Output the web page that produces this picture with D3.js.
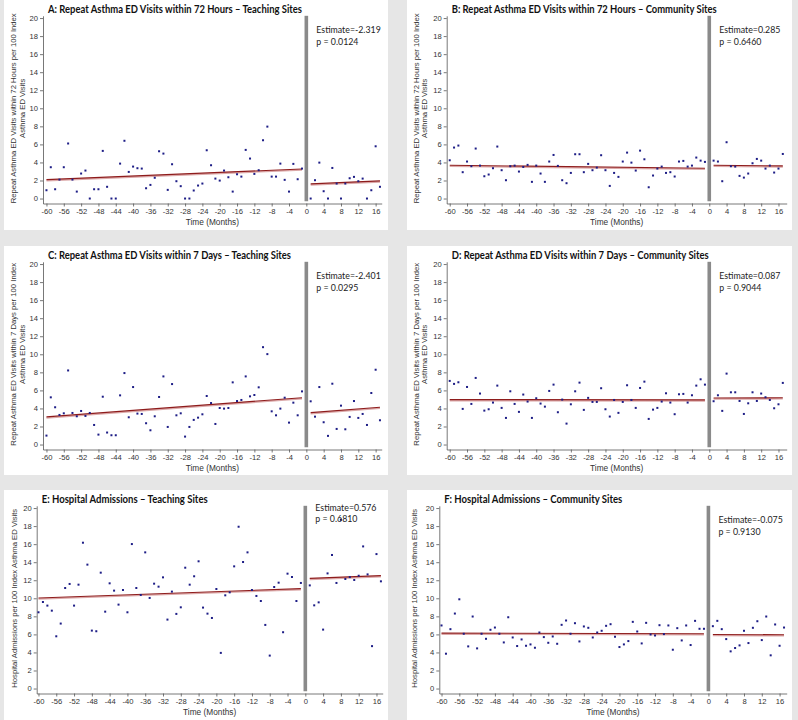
<!DOCTYPE html>
<html>
<head>
<meta charset="utf-8">
<script src="https://cdn.jsdelivr.net/npm/d3@7"></script>
<style>
  body { margin: 0; background: #e6e6e6; }
</style>
</head>
<body>
<div id="chart"></div>
<script>

// Months before and after the intervention (month 0 is the break).
var monthsPre  = [-60, -59, -58, -57, -56, -55, -54, -53, -52, -51, -50, -49, -48, -47, -46,
                  -45, -44, -43, -42, -41, -40, -39, -38, -37, -36, -35, -34, -33, -32, -31,
                  -30, -29, -28, -27, -26, -25, -24, -23, -22, -21, -20, -19, -18, -17, -16,
                  -15, -14, -13, -12, -11, -10, -9, -8, -7, -6, -5, -4, -3, -2, -1];
var monthsPost = [1, 2, 3, 4, 5, 6, 7, 8, 9, 10, 11, 12, 13, 14, 15, 16, 17];

var xTicks = [-60, -56, -52, -48, -44, -40, -36, -32, -28, -24, -20, -16, -12, -8, -4, 0, 4, 8, 12, 16];
var yTicks = [0, 2, 4, 6, 8, 10, 12, 14, 16, 18, 20];

// A: repeat visits within 72 hours, teaching sites
var aPre = [0.92, 3.47, 1.03, 2.1, 3.47, 6.1, 2.1, 0.77, 2.77, 3.1,
            0, 1.03, 1.03, 5.28, 1.3, 0, 0, 3.87, 6.4, 2.95,
            3.54, 3.36, 3.32, 1.14, 1.51, 2.3, 5.24, 4.98, 0.96, 3.8,
            1.92, 1.37, 0, 0, 0.89, 1.44, 1.66, 5.35, 3.69, 2.21,
            1.99, 3.1, 2.36, 0.77, 2.69, 2.43, 5.39, 4.43, 2.73, 3.14,
            6.46, 7.97, 2.43, 2.43, 3.87, 2.07, 0.77, 3.84, 2.14, 3.32];
var aPost = [0, 2.03, 3.98, 0.81, 0, 3.39, 1.66, 0, 1.66, 2.25, 2.4, 1.92, 2.21, 0, 0.92, 5.79, 1.3];
var aTrend = [[2.1, 3.28], [1.62, 1.96]];

// B: repeat visits within 72 hours, community sites
var bPre = [4.24, 5.65, 5.87, 2.92, 4.1, 3.58, 5.54, 3.65, 2.47, 2.66,
            3.36, 5.76, 3.14, 2.03, 3.58, 3.65, 2.99, 3.5, 3.73, 1.85,
            3.65, 2.77, 1.85, 4.1, 4.83, 3.62, 2.03, 1.7, 2.84, 4.91,
            4.91, 2.92, 3.84, 3.14, 3.43, 4.8, 3.14, 1.4, 2.84, 2.4,
            4.1, 5.09, 3.98, 3.1, 5.31, 4.35, 1.25, 2.55, 3.32, 3.54,
            2.84, 2.92, 2.44, 4.1, 4.17, 3.54, 3.65, 4.54, 4.2, 4.06];
var bPost = [4.2, 4.1, 1.92, 6.24, 3.58, 3.54, 2.51, 2.32, 2.77, 3.91, 4.39, 4.2, 3.32, 3.65, 2.88, 3.32, 4.94];
var bTrend = [[3.69, 3.36], [3.69, 3.62]];

// C: repeat visits within 7 days, teaching sites
var cPre = [0.99, 5.23, 4.13, 3.28, 3.46, 8.21, 3.5, 3.13, 3.72, 3.17,
            3.5, 2.17, 1.1, 5.3, 1.33, 1.03, 1.03, 5.45, 7.92, 3.02,
            6.37, 3.43, 3.39, 2.36, 1.58, 3.13, 5.27, 7.55, 1.95, 6.7,
            3.24, 3.46, 0.88, 1.95, 2.73, 2.98, 3.35, 5.38, 4.6, 2.28,
            4.05, 3.98, 4.05, 6.89, 4.82, 4.94, 7.55, 5.34, 5.49, 6.34,
            10.79, 10.02, 3.68, 3.24, 3.98, 5.19, 2.43, 4.64, 3.24, 5.89];
var cPost = [4.79, 3.09, 6.37, 2.47, 0.96, 6.74, 1.73, 4.31, 1.69, 3.06, 4.82, 2.95, 3.39, 2.17, 5.71, 8.29, 2.69];
var cTrend = [[3.06, 5.19], [3.54, 4.13]];

// D: repeat visits within 7 days, community sites
var dPre = [7.05, 6.72, 6.9, 3.95, 6.38, 4.5, 7.38, 5.65, 3.76, 3.91,
            4.65, 6.53, 4.06, 2.95, 5.9, 4.5, 3.62, 5.54, 4.76, 2.95,
            5.13, 4.54, 4.2, 5.94, 6.64, 3.58, 4.98, 2.32, 4.46, 5.9,
            6.86, 3.84, 5.17, 4.72, 4.72, 6.24, 3.91, 3.1, 4.94, 3.51,
            4.72, 6.57, 4.94, 4.06, 6.27, 6.97, 2.84, 3.87, 4.06, 4.76,
            5.68, 4.65, 3.36, 5.57, 5.61, 4.65, 5.46, 6.53, 7.23, 6.64];
var dPost = [4.8, 5.46, 3.73, 7.86, 5.79, 5.79, 4.83, 3.39, 4.57, 5.79, 4.83, 5.65, 5.24, 4.94, 4.02, 4.46, 6.83];
var dTrend = [[4.98, 4.95], [5.15, 5.18]];

// E: hospital admissions, teaching sites
var ePre = [8.45, 9.59, 9.19, 8.63, 5.79, 7.2, 11.14, 11.59, 9.19, 11.51,
            16.16, 13.73, 6.42, 6.35, 12.84, 8.52, 11.66, 10.85, 9.3, 10.92,
            8.45, 16.01, 11.14, 10.37, 15.09, 10.04, 11.62, 11.29, 12.32, 7.64,
            10.74, 8.27, 9.0, 13.39, 11.51, 12.44, 14.1, 8.97, 8.3, 7.82,
            11.03, 3.95, 10.33, 10.66, 13.54, 17.93, 14.02, 15.09, 10.92, 10.26,
            9.7, 7.05, 3.65, 11.25, 11.73, 6.24, 12.73, 12.36, 9.7, 11.7];
var ePost = [11.43, 9.22, 9.55, 6.53, 12.76, 14.8, 11.7, 18.7, 12.14, 12.35, 12.03, 12.5, 15.75, 12.65, 4.7, 14.9, 11.88];
var eTrend = [[10.04, 11.07], [12.21, 12.51]];

// F: hospital admissions, community sites
var fPre = [6.99, 3.86, 6.58, 8.31, 9.89, 6.07, 4.67, 7.98, 4.45, 6.07,
            5.51, 6.51, 6.76, 6.07, 5.11, 7.9, 5.66, 4.71, 5.44, 4.74,
            4.89, 4.52, 6.21, 5.7, 5.07, 5.77, 4.96, 7.06, 7.54, 6.07,
            7.24, 5.22, 6.88, 6.73, 5.66, 6.21, 6.4, 6.95, 7.13, 5.74,
            4.6, 4.89, 5.26, 7.39, 6.32, 5.0, 7.28, 5.99, 5.88, 7.02,
            6.03, 6.99, 4.3, 6.69, 5.33, 6.99, 4.82, 7.5, 6.62, 6.62];
var fPost = [6.91, 7.5, 6.58, 5.48, 4.12, 4.49, 4.78, 6.4, 5.04, 6.73, 7.46, 5.37, 7.98, 3.68, 7.1, 4.74, 6.76];
var fTrend = [[6.14, 6.07], [5.99, 5.96]];

var titles = ["A: Repeat Asthma ED Visits within 72 Hours \u2013 Teaching Sites",
              "B: Repeat Asthma ED Visits within 72 Hours \u2013 Community Sites",
              "C: Repeat Asthma ED Visits within 7 Days \u2013 Teaching Sites",
              "D: Repeat Asthma ED Visits within 7 Days \u2013 Community Sites",
              "E: Hospital Admissions \u2013 Teaching Sites",
              "F: Hospital Admissions \u2013 Community Sites"];
var estimates = ["-2.319", "0.285", "-2.401", "0.087", "0.576", "-0.075"];
var pValues   = ["0.0124", "0.6460", "0.0295", "0.9044", "0.6810", "0.9130"];
var yLabels = [
  ["Repeat Asthma ED Visits within 72 Hours per 100 Index", "Asthma ED Visits"],
  ["Repeat Asthma ED Visits within 72 Hours per 100 Index", "Asthma ED Visits"],
  ["Repeat Asthma ED Visits within 7 Days per 100 Index", "Asthma ED Visits"],
  ["Repeat Asthma ED Visits within 7 Days per 100 Index", "Asthma ED Visits"],
  ["Hospital Admissions per 100 Index Asthma ED Visits"],
  ["Hospital Admissions per 100 Index Asthma ED Visits"]];

// Panel boxes and plot areas (page pixels).
var panels = [
  {pre: aPre, post: aPost, trend: aTrend, box: [4, 0, 388, 230],   left: 43,    right: 381.7, dom: [-60.8, 17.4], top: 0,   lab: [13, 21.7], estY: 33, titleW: 254},
  {pre: bPre, post: bPost, trend: bTrend, box: [407, 0, 792, 230], left: 446.7, right: 786.7, dom: [-60.7, 17.9], top: 0,   lab: [416, 424], estY: 33, titleW: 265},
  {pre: cPre, post: cPost, trend: cTrend, box: [4, 246, 388, 475], left: 43,    right: 381.7, dom: [-60.8, 17.4], top: 246, lab: [13, 21.7], estY: 33, titleW: 243},
  {pre: dPre, post: dPost, trend: dTrend, box: [407, 246, 792, 475], left: 446.7, right: 786.7, dom: [-60.7, 17.9], top: 246, lab: [416, 424], estY: 33, titleW: 257},
  {pre: ePre, post: ePost, trend: eTrend, box: [4, 490, 388, 720], left: 36.7,  right: 382.7, dom: [-60.4, 17.4], top: 490, lab: [14], estY: 20.5, titleW: 166},
  {pre: fPre, post: fPost, trend: fTrend, box: [407, 490, 792, 720], left: 439.3, right: 786.7, dom: [-60.5, 17.6], top: 490, lab: [414], estY: 33, titleW: 178}
];

var svg = d3.select("#chart").append("svg")
    .attr("width", 798)
    .attr("height", 720)
    .style("display", "block");

svg.append("rect").attr("width", 798).attr("height", 720).attr("fill", "#e6e6e6");

var axisFont = "'Liberation Sans', Arial, sans-serif";
var textFont = "Lato, 'Open Sans', sans-serif";

function drawPanel(p, i) {
    var g = svg.append("g");

    g.append("rect")
        .attr("x", p.box[0]).attr("y", p.box[1])
        .attr("width", p.box[2] - p.box[0]).attr("height", p.box[3] - p.box[1])
        .attr("fill", "#fff");

    var x = d3.scaleLinear().domain(p.dom).range([p.left, p.right]);
    var y = d3.scaleLinear().domain([-0.55, 20.25]).range([p.top + 203.5, p.top + 15.8]);

    // axes
    var xAxis = g.append("g")
        .attr("transform", "translate(0," + y(-0.55) + ")")
        .call(d3.axisBottom(x).tickValues(xTicks).tickSize(3).tickSizeOuter(0).tickFormat(function(d) { return String(d); }));
    var yAxis = g.append("g")
        .attr("transform", "translate(" + p.left + ",0)")
        .call(d3.axisLeft(y).tickValues(yTicks).tickSize(3).tickSizeOuter(0).tickFormat(function(d) { return String(d); }));
    [xAxis, yAxis].forEach(function(a) {
        a.selectAll("path, line").attr("stroke", "#555").attr("stroke-width", 0.8);
        a.selectAll("text").attr("fill", "#333").style("font-family", axisFont).style("font-size", "7.6px");
    });
    xAxis.selectAll("text").attr("dy", "0.71em").attr("y", 5);
    yAxis.selectAll("text").attr("x", -5);

    // axis titles
    g.append("text")
        .attr("x", (p.left + p.right) / 2)
        .attr("y", y(-0.55) + 21.5)
        .attr("text-anchor", "middle")
        .attr("fill", "#333")
        .style("font-family", axisFont).style("font-size", "8.3px")
        .text("Time (Months)");

    var yMid = (y(0) + y(20)) / 2;
    yLabels[i].forEach(function(line, k) {
        g.append("text")
            .attr("transform", "translate(" + (p.lab[k] + 3) + "," + yMid + ") rotate(-90)")
            .attr("text-anchor", "middle")
            .attr("fill", "#333")
            .style("font-family", axisFont).style("font-size", "7.7px")
            .text(line);
    });

    // intervention bar at month 0
    g.append("rect")
        .attr("x", x(0) - 1.8)
        .attr("y", y(20.25))
        .attr("width", 3.6)
        .attr("height", y(-0.3) - y(20.25))
        .attr("fill", "#8a8a8a");

    // segmented trend lines
    var segs = [
        [monthsPre[0], p.trend[0][0], monthsPre[monthsPre.length - 1], p.trend[0][1]],
        [monthsPost[0], p.trend[1][0], monthsPost[monthsPost.length - 1], p.trend[1][1]]
    ];
    segs.forEach(function(s) {
        g.append("line")
            .attr("x1", x(s[0])).attr("y1", y(s[1]) + 1)
            .attr("x2", x(s[2])).attr("y2", y(s[3]) + 1)
            .attr("stroke", "#dba8a8").attr("stroke-width", 1.6);
        g.append("line")
            .attr("x1", x(s[0])).attr("y1", y(s[1]))
            .attr("x2", x(s[2])).attr("y2", y(s[3]))
            .attr("stroke", "#8e1c1c").attr("stroke-width", 1.1);
    });

    // monthly points
    var pts = monthsPre.map(function(m, j) { return [m, p.pre[j]]; })
        .concat(monthsPost.map(function(m, j) { return [m, p.post[j]]; }));
    g.selectAll("rect.pt").data(pts).enter().append("rect")
        .attr("class", "pt")
        .attr("x", function(d) { return x(d[0]) - 1; })
        .attr("y", function(d) { return y(d[1]) - 1; })
        .attr("width", 2).attr("height", 2)
        .attr("fill", "#1d1d86");

    // title and estimate text
    g.append("text")
        .attr("x", p.left + 5)
        .attr("y", y(20) - 5.5)
        .attr("textLength", p.titleW)
        .attr("lengthAdjust", "spacingAndGlyphs")
        .attr("fill", "#111")
        .style("font-family", textFont).style("font-weight", "bold").style("font-size", "10.5px")
        .text(titles[i]);

    var est = g.append("text")
        .attr("fill", "#222")
        .style("font-family", textFont).style("font-size", "8.8px");
    est.append("tspan").attr("x", x(0) + 10).attr("y", p.top + p.estY).text("Estimate=" + estimates[i]);
    est.append("tspan").attr("x", x(0) + 10).attr("y", p.top + p.estY + 11.5).text("p = " + pValues[i]);
}

panels.forEach(drawPanel);
</script>
</body>
</html>
